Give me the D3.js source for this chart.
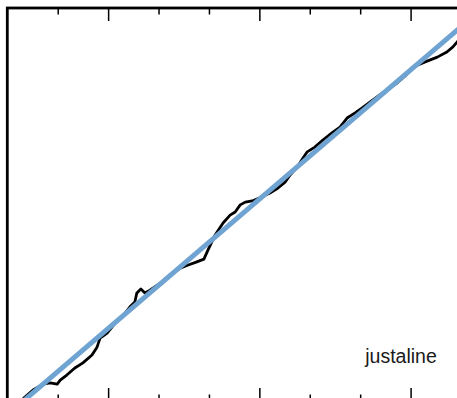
<!DOCTYPE html>
<html>
<head>
<meta charset="utf-8">
<script src="https://cdn.jsdelivr.net/npm/d3@7"></script>
<style>
  html, body { margin: 0; padding: 0; background: #fff; overflow: hidden; }
  svg { display: block; }
</style>
</head>
<body>
<script>
// ---- data ----
const seriesX = [0.29,0.35,0.51,0.71,0.85,0.99,1.05,1.18,1.34,1.50,1.68,1.78,1.84,1.98,2.14,2.28,2.43,2.53,2.57,2.65,2.73,2.83,3.07,3.23,3.43,3.59,3.76,3.90,3.98,4.12,4.28,4.42,4.52,4.62,4.72,4.86,5.01,5.21,5.37,5.51,5.61,5.75,5.85,5.95,6.10,6.26,6.44,6.60,6.74,6.90,7.04,7.20,7.39,7.53,7.73,7.89,8.05,8.29,8.53,8.72,8.84,8.92,9.00];
const seriesY = [0.25,1.0,2.8,4.3,4.6,4.3,5.3,6.6,8.4,9.7,11.7,13.7,16.0,17.3,19.8,21.4,23.9,25.2,27.5,28.5,27.5,28.2,30.3,32.1,33.8,34.6,35.4,36.1,38.4,42.2,45.3,47.3,48.1,49.9,50.6,50.9,51.7,52.9,54.2,55.7,57.5,59.5,61.5,63.4,64.6,66.4,68.2,69.7,72.0,73.3,74.6,76.1,77.9,79.1,80.9,82.7,85.0,86.3,87.5,88.8,90.1,91.3,92.6];
const fitX = [0.2, 9.0];
const fitY = [-1.3, 95.2];
const tickValues = [1,2,3,4,5,6,7,8];
const majorTicks = [2,5,8];
const labelText = "justaline";

// ---- layout ----
const W = 457, H = 398;
const mLeft = 7.3, mRight = 461, mTop = 8, mBottom = 401;

const svg = d3.select("body").append("svg").attr("width", W).attr("height", H);

const x = d3.scaleLinear().domain([0, 9]).range([mLeft, mRight]);
const y = d3.scaleLinear().domain([0, 100]).range([mBottom, mTop]);

svg.append("defs").append("clipPath").attr("id", "clip")
  .append("rect").attr("x", mLeft).attr("y", mTop).attr("width", mRight - mLeft).attr("height", mBottom - mTop);

const plot = svg.append("g").attr("clip-path", "url(#clip)");

const line = d3.line().x(d => x(d[0])).y(d => y(d[1]));

plot.append("path")
  .datum(d3.zip(seriesX, seriesY))
  .attr("d", line)
  .attr("fill", "none")
  .attr("stroke", "#000")
  .attr("stroke-width", 2.8)
  .attr("stroke-linejoin", "round");

plot.append("path")
  .datum(d3.zip(fitX, fitY))
  .attr("d", line)
  .attr("fill", "none")
  .attr("stroke", "#6fa3d2")
  .attr("stroke-width", 5);

// ticks (inward)
function addAxis(gen, ty, vals, size) {
  const g = svg.append("g").attr("transform", `translate(0,${ty})`)
    .call(gen(x).tickValues(vals).tickSize(size).tickFormat(""));
  g.select(".domain").remove();
  g.selectAll(".tick line").attr("stroke", "#000").attr("stroke-width", 1.5);
}
const minorTicks = tickValues.filter(v => !majorTicks.includes(v));
addAxis(d3.axisTop, mTop, minorTicks, -6.5);
addAxis(d3.axisTop, mTop, majorTicks, -13);
addAxis(d3.axisBottom, mBottom, minorTicks, -6.5);
addAxis(d3.axisBottom, mBottom, majorTicks, -13);

// frame
svg.append("rect")
  .attr("x", mLeft).attr("y", mTop)
  .attr("width", mRight - mLeft).attr("height", mBottom - mTop)
  .attr("fill", "none").attr("stroke", "#000").attr("stroke-width", 2.8);

svg.append("text")
  .attr("x", x(7.1)).attr("y", 362.5)
  .attr("font-family", "Liberation Sans, Arial, sans-serif")
  .attr("font-size", 19.5)
  .attr("fill", "#1a1a1a")
  .text(labelText);
</script>
</body>
</html>
